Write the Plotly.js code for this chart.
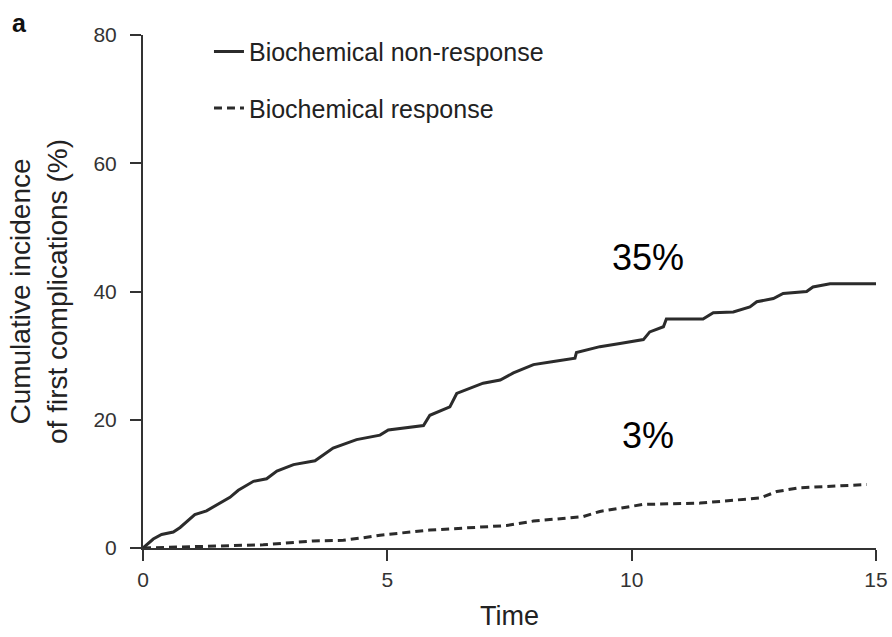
<!DOCTYPE html>
<html>
<head>
<meta charset="utf-8">
<script src="https://cdn.plot.ly/plotly-3.0.1.min.js"></script>
<style>html,body{margin:0;padding:0;background:#fff;}#chart{width:892px;height:637px;}</style>
</head>
<body>
<div id="chart"></div>
<script>
// Biochemical non-response (solid)
const nonRespTime = [0,0.21,0.38,0.62,0.76,1.06,1.30,1.58,1.78,1.95,2.26,2.53,2.74,3.08,3.52,3.89,4.37,4.85,5.02,5.74,5.87,6.28,6.42,6.96,7.31,7.58,7.99,8.40,8.84,8.87,9.35,9.76,10.24,10.37,10.65,10.71,11.46,11.67,12.08,12.42,12.56,12.90,13.10,13.58,13.71,14.06,15.0];
const nonRespInc  = [0,1.4,2.1,2.5,3.2,5.2,5.8,7.0,7.9,9.0,10.4,10.8,12.0,13.0,13.6,15.6,16.9,17.6,18.4,19.1,20.7,22.0,24.1,25.7,26.2,27.3,28.6,29.1,29.6,30.5,31.4,31.9,32.5,33.7,34.5,35.7,35.7,36.7,36.8,37.6,38.4,38.9,39.7,40.0,40.7,41.2,41.2];
// Biochemical response (dashed)
const respTime = [0,0.5,1.0,1.78,2.46,3.48,4.10,4.51,4.85,5.87,6.55,7.44,7.99,9.01,9.35,10.03,10.24,11.40,12.63,12.97,13.44,14.81];
const respInc  = [0,0.1,0.2,0.3,0.5,1.1,1.2,1.6,2.0,2.8,3.1,3.5,4.2,4.9,5.7,6.5,6.8,7.0,7.8,8.8,9.4,9.9];

const seriesNames = ["Biochemical non-response","Biochemical response"];
const xTicks = [0,5,10,15];
const yTicks = [0,20,40,60,80];
const notes = [{x:10.33, y:45.3, text:"35%"},{x:10.33, y:17.6, text:"3%"}];

const traces = [
  {x:nonRespTime, y:nonRespInc, type:"scatter", mode:"lines", name:seriesNames[0], legendgroup:"a",
   line:{color:"#2b2b2b", width:3}},
  {x:respTime, y:respInc, type:"scatter", mode:"lines", name:seriesNames[1], legendgroup:"b",
   line:{color:"#2b2b2b", width:3, dash:"8px,5px"}}
];

const axisFont = {family:"Liberation Sans, Arial, sans-serif", size:21, color:"#333"};

const layout = {
  width:892, height:637,
  margin:{l:143, r:16, t:34.5, b:88.5},
  paper_bgcolor:"#fff", plot_bgcolor:"#fff",
  showlegend:true,
  legend:{x:0.09, y:1.012, xanchor:"left", yanchor:"top", bgcolor:"rgba(0,0,0,0)",
          font:{family:"Liberation Sans, Arial, sans-serif", size:25, color:"#222"},
          traceorder:"grouped", tracegroupgap:21},
  xaxis:{range:[0,15], tickvals:xTicks, ticktext:xTicks.map(String), showgrid:false, zeroline:false,
         showline:true, linecolor:"#333", linewidth:2, ticks:"outside", ticklen:11, tickwidth:2, tickcolor:"#333",
         tickfont:axisFont, ticklabelstandoff:1,
         title:{text:"Time", font:{family:"Liberation Sans, Arial, sans-serif", size:27, color:"#222"}, standoff:16}},
  yaxis:{range:[0,80], tickvals:yTicks, ticktext:yTicks.map(String), showgrid:false, zeroline:false,
         showline:true, linecolor:"#333", linewidth:2, ticks:"outside", ticklen:11, tickwidth:2, tickcolor:"#333",
         tickfont:axisFont, ticklabelstandoff:9,
         title:{text:"Cumulative incidence<br>of first complications (%)", font:{family:"Liberation Sans, Arial, sans-serif", size:28, color:"#222"}, standoff:18}},
  annotations: notes.map(n => ({x:n.x, y:n.y, xref:"x", yref:"y", text:n.text, showarrow:false,
      font:{family:"Liberation Sans, Arial, sans-serif", size:36, color:"#000"}})).concat([
      {x:-0.168, y:1.024, xref:"paper", yref:"paper", xanchor:"center", yanchor:"middle", text:"<b>a</b>", showarrow:false,
       font:{family:"Liberation Sans, Arial, sans-serif", size:25, color:"#111"}}
  ])
};

Plotly.newPlot("chart", traces, layout, {displayModeBar:false, staticPlot:true});
</script>
</body>
</html>
